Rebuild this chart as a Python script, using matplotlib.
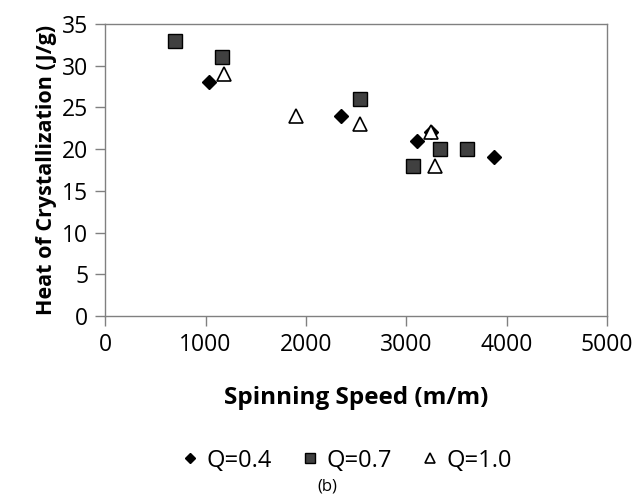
import matplotlib
matplotlib.use("Agg")
import matplotlib.pyplot as plt

plt.rcParams['font.family'] = ['Open Sans', 'DejaVu Sans']

q04_speed = [1030, 2350, 3110, 3250, 3870]
q04_heat = [28, 24, 21, 22, 19]

q07_speed = [700, 1160, 2540, 3070, 3340, 3610]
q07_heat = [33, 31, 26, 18, 20, 20]

q10_speed = [1180, 1900, 2540, 3250, 3290]
q10_heat = [29, 24, 23, 22, 18]

x_ticks = [0, 1000, 2000, 3000, 4000, 5000]
y_ticks = [0, 5, 10, 15, 20, 25, 30, 35]

fig = plt.figure(figsize=(6.41, 4.98), dpi=100)
ax = fig.add_axes([0.164, 0.3655, 0.783, 0.5863])

ax.plot(q04_speed, q04_heat, linestyle="none", marker="D", markersize=7,
        color="black", label="Q=0.4")
ax.plot(q07_speed, q07_heat, linestyle="none", marker="s", markersize=10,
        markerfacecolor="#404040", markeredgecolor="black", markeredgewidth=1, label="Q=0.7")
ax.plot(q10_speed, q10_heat, linestyle="none", marker="^", markersize=10,
        markerfacecolor="white", markeredgecolor="black", markeredgewidth=1.2, label="Q=1.0")

ax.set_xlim(0, 5000)
ax.set_ylim(0, 35)
ax.set_xticks(x_ticks)
ax.set_yticks(y_ticks)
ax.tick_params(labelsize=16.5, length=7, width=1, color="#808080", pad=5)

for side in ["left", "bottom", "top", "right"]:
    ax.spines[side].set_color("#808080")
    ax.spines[side].set_linewidth(1)

ax.set_xlabel("Spinning Speed (m/m)", fontsize=17.5, fontweight="bold", labelpad=21)
ax.set_ylabel("Heat of Crystallization (J/g)", fontsize=15.5, fontweight="bold", labelpad=4)

fig.legend(loc="center", bbox_to_anchor=(0.535, 0.075), ncol=3, frameon=False,
           fontsize=17, handletextpad=0.0, columnspacing=0.9, handlelength=1.4,
           markerscale=0.75)

fig.text(0.51, 0.024, "(b)", ha="center", va="center", fontsize=12)

fig.savefig("out.png", dpi=100)
